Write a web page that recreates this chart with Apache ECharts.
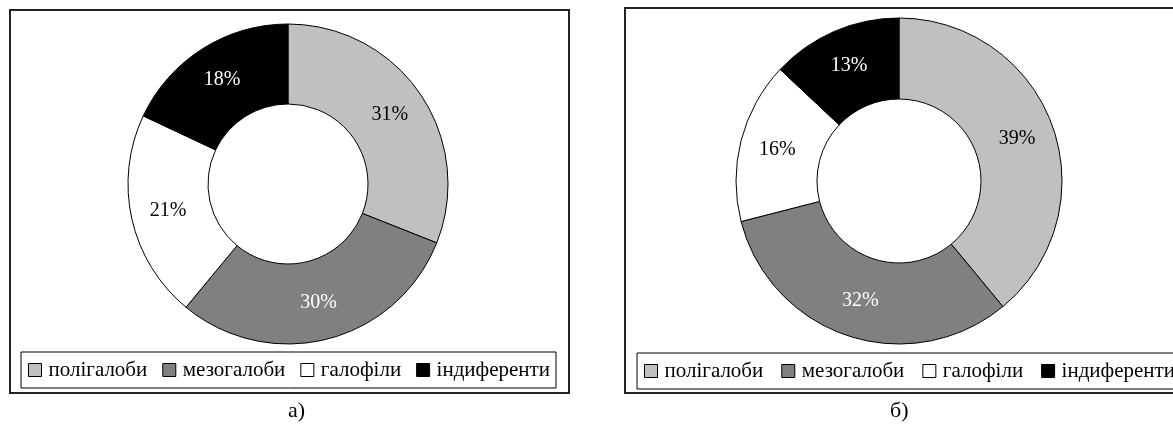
<!DOCTYPE html>
<html>
<head>
<meta charset="utf-8">
<script src="https://cdn.jsdelivr.net/npm/echarts@6/dist/echarts.min.js"></script>
<style>
  html, body { margin: 0; padding: 0; background: #fff; }
  #chart { width: 1173px; height: 432px; }
</style>
</head>
<body>
<div id="chart"></div>
<script>
// Salinity groups of the assemblage
const categories = ['полігалоби', 'мезогалоби', 'галофіли', 'індиференти'];
// Shares (%) for panel а) and panel б)
const valuesA = [31, 30, 21, 18];
const valuesB = [39, 32, 16, 13];
const panelCaptions = ['а)', 'б)'];

const sliceColors = ['#c0c0c0', '#808080', '#ffffff', '#000000'];
const labelColors = ['#000000', '#ffffff', '#000000', '#ffffff'];
const FONT = '"Liberation Serif", "Times New Roman", serif';

function pieData(values) {
  return categories.map((name, i) => ({
    name: name,
    value: values[i],
    itemStyle: { color: sliceColors[i] },
    label: { color: labelColors[i] }
  }));
}

function donut(values, center, radius) {
  return {
    type: 'pie',
    center: center,
    radius: radius,
    startAngle: 90,
    clockwise: true,
    avoidLabelOverlap: false,
    silent: true,
    itemStyle: { borderColor: '#000', borderWidth: 1 },
    label: {
      show: true,
      position: 'inside',
      formatter: '{c}%',
      fontFamily: FONT,
      fontSize: 20
    },
    labelLine: { show: false },
    emphasis: { disabled: true },
    data: pieData(values)
  };
}

function legendBox(left, top, gap) {
  return {
    data: categories,
    orient: 'horizontal',
    left: left,
    top: top,
    width: 640,
    icon: 'rect',
    itemWidth: 13,
    itemHeight: 13,
    itemGap: gap,
    selectedMode: false,
    borderColor: '#000',
    borderWidth: 1,
    padding: [7, 6, 7, 7],
    itemStyle: { borderColor: '#000', borderWidth: 1 },
    textStyle: {
      fontFamily: FONT,
      fontSize: 21,
      lineHeight: 22,
      color: '#000',
      padding: [0, 0, 0, 2]
    }
  };
}

const chart = echarts.init(document.getElementById('chart'), null, { renderer: 'canvas' });
chart.setOption({
  animation: false,
  backgroundColor: '#ffffff',
  legend: [
    legendBox(21, 352, 15),
    legendBox(637, 353, 18)
  ],
  series: [
    donut(valuesA, [288, 184], [80, 160]),
    donut(valuesB, [899, 181], [82, 163])
  ],
  graphic: [
    {
      type: 'rect', z: -1,
      shape: { x: 10, y: 10, width: 559, height: 383 },
      style: { fill: 'none', stroke: '#222', lineWidth: 2 }
    },
    {
      type: 'rect', z: -1,
      shape: { x: 625, y: 8, width: 570, height: 385 },
      style: { fill: 'none', stroke: '#222', lineWidth: 2 }
    },
    {
      type: 'text', left: 288, top: 400,
      style: { text: panelCaptions[0], font: '22px ' + FONT, fill: '#000' }
    },
    {
      type: 'text', left: 890, top: 400,
      style: { text: panelCaptions[1], font: '22px ' + FONT, fill: '#000' }
    }
  ]
});
</script>
</body>
</html>
